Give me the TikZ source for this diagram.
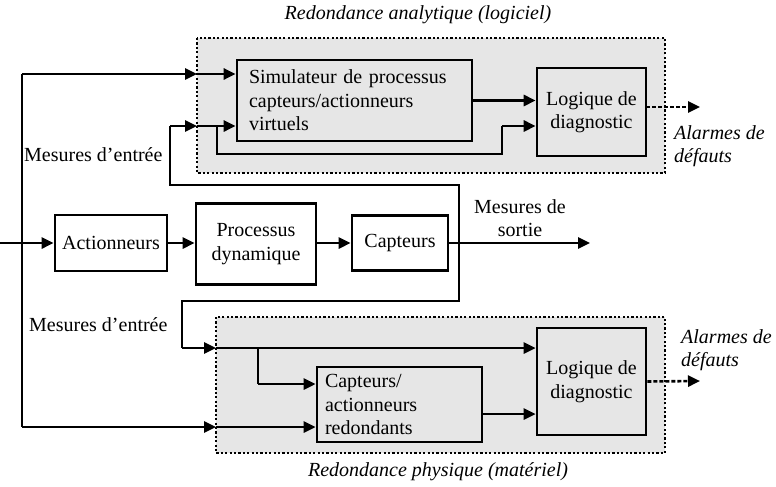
\documentclass[tikz,border=0pt]{standalone}
\usepackage{fontspec}
\setmainfont{Liberation Serif}
\usetikzlibrary{arrows.meta}
\definecolor{zonegray}{RGB}{230,230,230}
\tikzset{
  every node/.style={font=\fontsize{20}{23.5}\selectfont, inner sep=0pt},
  blk/.style={draw, line width=2.6pt, rectangle, align=center},
  conn/.style={line width=2.6pt},
  arr/.style={line width=2.6pt, -{Triangle[length=12pt,width=11pt]}},
  alarm/.style={line width=2.6pt, dash pattern=on 4pt off 2pt, -{Triangle[length=12pt,width=11pt]}},
  zone/.style={line width=2.4pt, dash pattern=on 2.2pt off 2.2pt},
  lbl/.style={align=left},
}
\begin{document}
\begin{tikzpicture}[x=1pt,y=-1pt]
\useasboundingbox (0,0) rectangle (776,487);
% zones
\fill[zonegray] (197,38) rectangle (665,173);
\fill[zonegray] (216,317) rectangle (665,453);
% blocks
\node[blk, fill=zonegray, minimum width=235pt, minimum height=81pt, text width=211pt, inner xsep=12pt, align=left] (Sim) at (354.5,100.5) {Simulateur de processus\\capteurs/actionneurs\\virtuels};
\node[blk, fill=zonegray, minimum width=109pt, minimum height=88pt] (LogT) at (591.5,112) {Logique de\\diagnostic};
\node[blk, fill=white, minimum width=112pt, minimum height=56pt] (Act) at (111,243) {Actionneurs};
\node[blk, fill=white, minimum width=120pt, minimum height=81pt] (Proc) at (256,244) {Processus\\dynamique};
\node[blk, fill=white, minimum width=96pt, minimum height=55pt] (Capt) at (400,243) {Capteurs};
\node[blk, fill=zonegray, minimum width=165pt, minimum height=75pt, text width=149pt, inner xsep=8pt, align=left] (CapR) at (399.5,404.5) {Capteurs/\\actionneurs\\redondants};
\node[blk, fill=zonegray, minimum width=109pt, minimum height=107pt] (LogB) at (591.5,381.5) {Logique de\\diagnostic};
% labels
\node (tA) at (418,15) {\itshape Redondance analytique (logiciel)};
\node (tP) at (438,472) {\itshape Redondance physique (matériel)};
\node[lbl, anchor=west] (alT) at (674,146) {\itshape Alarmes de\\\itshape défauts};
\node[lbl, anchor=west] (alB) at (681,350) {\itshape Alarmes de\\\itshape défauts};
\node[align=center] (ms) at (520,218) {Mesures de\\sortie};
\node[anchor=west] (meT) at (24,155) {Mesures d’entrée};
\node[anchor=west] (meB) at (29,325) {Mesures d’entrée};
% coordinates
\coordinate (inA) at (0,243);
\coordinate (L1) at (22,74);
\coordinate (L2) at (22,427);
\coordinate (bT1) at (197,74);
\coordinate (bT2) at (197,126);
\coordinate (jOut) at (459,243);
\coordinate (outEnd) at (590,243);
\coordinate (t1) at (459,185);
\coordinate (t2) at (170,185);
\coordinate (t3) at (170,126);
\coordinate (br1) at (217,126);
\coordinate (br2) at (217,154);
\coordinate (br3) at (502,154);
\coordinate (br4) at (502,126);
\coordinate (b1) at (459,301);
\coordinate (b2) at (182,301);
\coordinate (b3) at (182,348);
\coordinate (bB1) at (216,348);
\coordinate (bB2) at (216,427);
\coordinate (br5) at (258,348);
\coordinate (br6) at (258,384);
\coordinate (y414) at (0,414);
\coordinate (aT0) at (646,107);
\coordinate (aT) at (700,107);
\coordinate (aB) at (700,381);
% main row
\draw[arr] (inA) -- (Act.west);
\draw[arr] (Act.east) -- (Proc.west |- Act.east);
\draw[arr] (Proc.east |- Capt.west) -- (Capt.west);
\draw[arr] (Capt.east) -- (outEnd);
% left bus
\draw[conn] (L1) -- (L2);
\draw[arr] (L1) -- (bT1);
\draw[arr] (bT1) -- (Sim.west |- bT1);
\draw[arr] (L2) -- (bB2);
\draw[arr] (bB2) -- (CapR.west |- bB2);
% top loop
\draw[conn] (jOut) -- (t1) -- (t2) -- (t3);
\draw[arr] (t3) -- (bT2);
\draw[arr] (bT2) -- (Sim.west |- bT2);
\draw[conn] (br1) -- (br2) -- (br3) -- (br4);
\draw[arr] (br4) -- (LogT.west |- br4);
\draw[arr] (Sim.east) -- (LogT.west |- Sim.east);
\draw[alarm] (aT0) -- (aT);
% bottom loop
\draw[conn] (jOut) -- (b1) -- (b2) -- (b3);
\draw[arr] (b3) -- (bB1);
\draw[arr] (bB1) -- (LogB.west |- bB1);
\draw[conn] (br5) -- (br6);
\draw[arr] (br6) -- (CapR.west |- br6);
\draw[arr] (CapR.east |- y414) -- (LogB.west |- y414);
\draw[alarm] (LogB.east) -- (aB);
% zone borders
\draw[zone] (197,38) rectangle (665,173);
\draw[zone] (216,317) rectangle (665,453);
\end{tikzpicture}
\end{document}
